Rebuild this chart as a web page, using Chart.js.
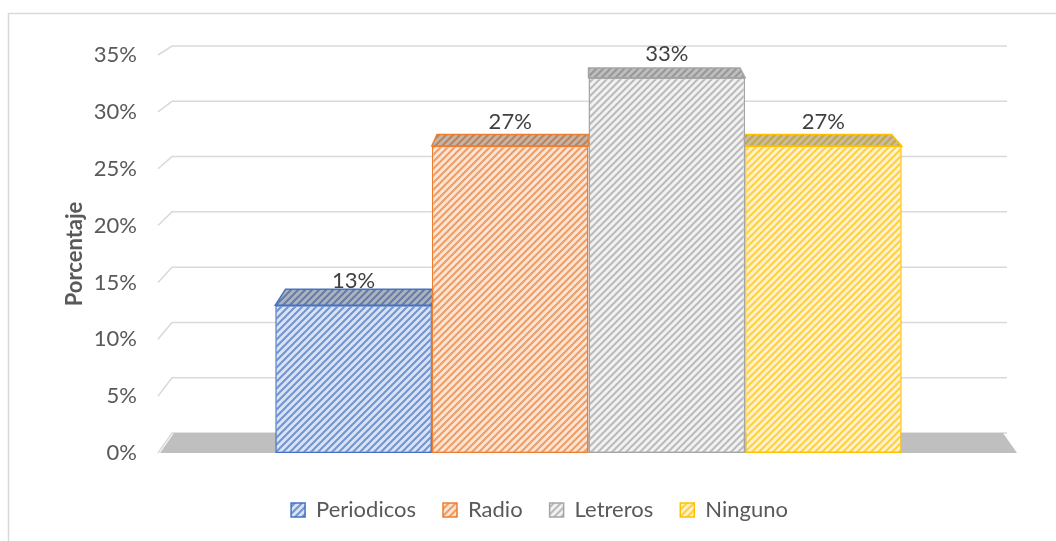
<!DOCTYPE html>
<html lang="es">
<head>
<meta charset="UTF-8">
<title>Porcentaje por medio</title>
<script src="https://cdn.jsdelivr.net/npm/chart.js"></script>
<style>
  html, body { margin: 0; padding: 0; background: #fff; }
  .wrap { width: 1056px; height: 541px; }
</style>
</head>
<body>
<div class="wrap"><canvas id="mediosChart" width="1056" height="541"></canvas></div>
<script>
// data
const series = ['Periodicos', 'Radio', 'Letreros', 'Ninguno'];
const values = [13, 27, 33, 27];
const yMax = 35;
const yStep = 5;

// styles
const lineColors = ['#4472C4', '#ED7D31', '#A5A5A5', '#FFC000'];
const hatchColors = ['rgba(68,114,196,0.7)', 'rgba(237,125,49,0.7)', 'rgba(150,150,150,0.6)', 'rgba(255,192,0,0.7)'];
const fillColors = ['#DAE3F3', '#FBE5D6', '#F2F2F2', '#FFF2CC'];

const canvas = document.getElementById('mediosChart');
const ctx = canvas.getContext('2d');

// upward diagonal hatch, like the Excel pattern fill
function makeHatch(bg, fg) {
    const size = 7;
    const tile = document.createElement('canvas');
    tile.width = size;
    tile.height = size;
    const g = tile.getContext('2d');
    g.fillStyle = bg;
    g.fillRect(0, 0, size, size);
    g.strokeStyle = fg;
    g.lineWidth = 2;
    g.beginPath();
    g.moveTo(-1, size + 1); g.lineTo(size + 1, -1);
    g.moveTo(-1, 1); g.lineTo(1, -1);
    g.moveTo(size - 1, size + 1); g.lineTo(size + 1, size - 1);
    g.stroke();
    return ctx.createPattern(tile, 'repeat');
}
const patterns = series.map((_, i) => makeHatch(fillColors[i], hatchColors[i]));

// where a front point lands on the back plane (fake 3D perspective)
function toBack(area, x, y) {
    const cx = (area.left + area.right) / 2;
    const half = (area.right - area.left) / 2;
    const sx = (cx - x) / half * 14;
    const sy = 9 + 11 * (y - area.top) / (area.bottom - area.top);
    return [x + sx, y - sy];
}

const wall3d = {
    id: 'wall3d',
    beforeDraw(chart) {
        const c = chart.ctx;
        c.save();
        c.strokeStyle = '#D9D9D9';
        c.lineWidth = 1.5;
        c.strokeRect(8.5, 13.5, 2000, 2000);
        c.restore();
    },
    beforeDatasetsDraw(chart) {
        const c = chart.ctx;
        const area = chart.chartArea;
        const yScale = chart.scales.y;
        c.save();

        // back wall gridlines with the slanted side wall piece
        c.strokeStyle = '#D9D9D9';
        c.lineWidth = 1.5;
        yScale.ticks.forEach(t => {
            const yF = yScale.getPixelForValue(t.value);
            const bl = toBack(area, area.left, yF);
            const br = toBack(area, area.right, yF);
            c.beginPath();
            c.moveTo(area.left - 2, yF);
            c.lineTo(bl[0] - 2, bl[1]);
            c.lineTo(br[0] + 4, br[1]);
            c.stroke();
        });

        // floor
        const fl = toBack(area, area.left, area.bottom);
        const fr = toBack(area, area.right, area.bottom);
        c.fillStyle = '#BFBFBF';
        c.beginPath();
        c.moveTo(area.left, area.bottom);
        c.lineTo(area.right, area.bottom);
        c.lineTo(fr[0], fr[1]);
        c.lineTo(fl[0], fl[1]);
        c.closePath();
        c.fill();

        // bar tops
        chart.data.datasets.forEach((ds, i) => {
            const bar = chart.getDatasetMeta(i).data[0];
            const x1 = bar.x - bar.width / 2;
            const x2 = bar.x + bar.width / 2;
            const b1 = toBack(area, x1, bar.y);
            const b2 = toBack(area, x2, bar.y);
            c.beginPath();
            c.moveTo(x1, bar.y);
            c.lineTo(x2, bar.y);
            c.lineTo(b2[0], b2[1]);
            c.lineTo(b1[0], b1[1]);
            c.closePath();
            c.fillStyle = ds.backgroundColor;
            c.fill();
            c.fillStyle = 'rgba(70,70,70,0.3)';
            c.fill();
            c.strokeStyle = ds.borderColor;
            c.lineWidth = 1.5;
            c.stroke();
        });
        c.restore();
    },
    afterDatasetsDraw(chart) {
        const c = chart.ctx;
        c.save();
        c.font = '22px Lato';
        c.fillStyle = '#404040';
        c.textAlign = 'center';
        c.textBaseline = 'middle';
        chart.data.datasets.forEach((ds, i) => {
            const bar = chart.getDatasetMeta(i).data[0];
            c.fillText(ds.data[0] + '%', bar.x, bar.y - 24);
        });
        c.restore();
    }
};

new Chart(ctx, {
    type: 'bar',
    data: {
        labels: [''],
        datasets: series.map((name, i) => ({
            label: name,
            data: [values[i]],
            backgroundColor: patterns[i],
            borderColor: lineColors[i],
            borderWidth: 1.5,
            borderSkipped: false,
            categoryPercentage: 0.731,
            barPercentage: 1
        }))
    },
    options: {
        responsive: false,
        devicePixelRatio: 1,
        animation: false,
        events: [],
        layout: {
            padding: { left: 62, right: 39, top: 55, bottom: 10 }
        },
        font: { family: 'Lato' },
        plugins: {
            tooltip: { enabled: false },
            legend: {
                position: 'bottom',
                labels: {
                    boxWidth: 14,
                    boxHeight: 14,
                    padding: 27,
                    color: '#595959',
                    font: { family: 'Lato', size: 22 }
                }
            }
        },
        scales: {
            x: {
                grid: { display: false },
                border: { display: false },
                ticks: { display: false },
                afterFit: s => { s.height = 19; }
            },
            y: {
                min: 0,
                max: yMax,
                grid: { display: false, drawTicks: false },
                border: { display: false },
                ticks: {
                    stepSize: yStep,
                    padding: 23,
                    color: '#595959',
                    font: { family: 'Lato', size: 22 },
                    callback: v => v + '%'
                },
                title: {
                    display: true,
                    text: 'Porcentaje',
                    color: '#595959',
                    padding: 0,
                    font: { family: 'Lato', size: 22, weight: 'bold' }
                },
                afterFit: s => { s.width = 98; }
            }
        }
    },
    plugins: [wall3d]
});
</script>
</body>
</html>
